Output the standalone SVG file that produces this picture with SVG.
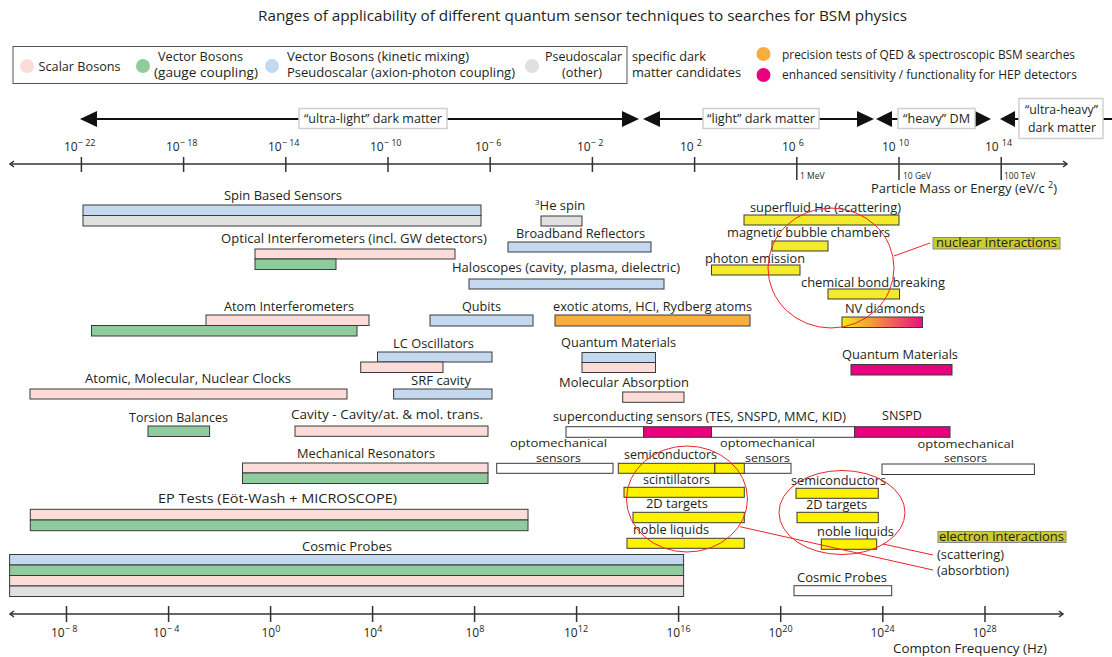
<svg xmlns="http://www.w3.org/2000/svg" width="1112" height="657" viewBox="0 0 1112 657">
<defs>
<style>
.t{font-family:"Open Sans","Noto Sans",sans-serif;font-size:13px;fill:#231f20}
.s{font-family:"Open Sans","Noto Sans",sans-serif;font-size:12px;fill:#231f20}
.o{font-family:"Open Sans","Noto Sans",sans-serif;font-size:11.5px;fill:#231f20}
.xs{font-family:"Open Sans","Noto Sans",sans-serif;font-size:8.5px;fill:#231f20}
.b{stroke:#3a3a3a;stroke-width:1}
.pk{fill:#fbdcd9}.gr{fill:#8fcb9c}.bl{fill:#c4d8ef}.gy{fill:#e0e0e0}.or{fill:#f9ad3c}.mg{fill:#e9007f}.yn{fill:#f2ea2b}.ye{fill:#fff200}.wh{fill:#ffffff}
.ax{stroke:#333;stroke-width:1.5;fill:none}
.red{stroke:#e8262a;stroke-width:1;fill:none}
.dm{fill:#fff;stroke:#cfcfcf;stroke-width:1.5}
.hl{fill:#cccb2c;stroke:#8a8a8a;stroke-width:1}
</style>
<linearGradient id="nv" x1="0" y1="0" x2="1" y2="0">
<stop offset="0" stop-color="#f6ea12"/>
<stop offset="1" stop-color="#e9127f"/>
</linearGradient>
</defs>
<rect width="1112" height="657" fill="#fff"/>

<text class="t" x="258" y="21" style="font-size:15px" textLength="649" lengthAdjust="spacingAndGlyphs">Ranges of applicability of different quantum sensor techniques to searches for BSM physics</text>

<g id="legend">
<rect x="13" y="46.5" width="614" height="37" fill="#fff" stroke="#555" stroke-width="1"/>
<circle cx="27" cy="66" r="7" class="pk"/>
<text class="t" x="38.6" y="71" textLength="82" lengthAdjust="spacingAndGlyphs">Scalar Bosons</text>
<circle cx="143" cy="66" r="7" class="gr"/>
<text class="t" x="158" y="61" textLength="85" lengthAdjust="spacingAndGlyphs">Vector Bosons</text>
<text class="t" x="154" y="77" textLength="104" lengthAdjust="spacingAndGlyphs">(gauge coupling)</text>
<circle cx="272" cy="66" r="7" class="bl"/>
<text class="t" x="287" y="61" textLength="182" lengthAdjust="spacingAndGlyphs">Vector Bosons (kinetic mixing)</text>
<text class="t" x="287" y="77" textLength="228" lengthAdjust="spacingAndGlyphs">Pseudoscalar (axion-photon coupling)</text>
<circle cx="532" cy="66" r="7" class="gy"/>
<text class="t" x="545" y="61" textLength="77" lengthAdjust="spacingAndGlyphs">Pseudoscalar</text>
<text class="t" x="562" y="77" textLength="40" lengthAdjust="spacingAndGlyphs">(other)</text>
<text class="t" x="632" y="61" textLength="74" lengthAdjust="spacingAndGlyphs">specific dark</text>
<text class="t" x="632" y="77" textLength="109" lengthAdjust="spacingAndGlyphs">matter candidates</text>
<circle cx="763.5" cy="54" r="7" class="or"/>
<text class="s" x="782" y="59" textLength="293" lengthAdjust="spacingAndGlyphs">precision tests of QED &amp; spectroscopic BSM searches</text>
<circle cx="763.5" cy="75" r="7" class="mg"/>
<text class="s" x="782" y="79" textLength="295" lengthAdjust="spacingAndGlyphs">enhanced sensitivity / functionality for HEP detectors</text>
</g>

<g id="dm-ranges">
<line x1="90" y1="119" x2="630" y2="119" stroke="#111" stroke-width="2"/>
<polygon points="80,119 97,111 97,127" fill="#111"/>
<polygon points="639,119 622,111 622,127" fill="#111"/>
<rect class="dm" x="299" y="108.5" width="148" height="20"/>
<text class="t" x="304" y="123" textLength="138" lengthAdjust="spacingAndGlyphs">“ultra-light” dark matter</text>

<line x1="650" y1="119" x2="866" y2="119" stroke="#111" stroke-width="2"/>
<polygon points="643,119 660,111 660,127" fill="#111"/>
<polygon points="874,119 857,111 857,127" fill="#111"/>
<rect class="dm" x="703" y="108.5" width="116" height="20"/>
<text class="t" x="707" y="123" textLength="108" lengthAdjust="spacingAndGlyphs">“light” dark matter</text>

<line x1="884" y1="119" x2="984" y2="119" stroke="#111" stroke-width="2"/>
<polygon points="876,119 892,111 892,127" fill="#111"/>
<polygon points="991,119 975,111 975,127" fill="#111"/>
<rect class="dm" x="898" y="108.5" width="77" height="20"/>
<text class="t" x="903" y="123" textLength="67" lengthAdjust="spacingAndGlyphs">“heavy” DM</text>

<line x1="1008" y1="119" x2="1112" y2="119" stroke="#111" stroke-width="2"/>
<polygon points="1000,119 1015,111 1015,127" fill="#111"/>
<rect class="dm" x="1019" y="98.5" width="84" height="40"/>
<text class="t" x="1025" y="114" textLength="73" lengthAdjust="spacingAndGlyphs">“ultra-heavy”</text>
<text class="t" x="1028" y="132" textLength="68" lengthAdjust="spacingAndGlyphs">dark matter</text>
</g>

<g id="top-axis">
<line class="ax" x1="10" y1="164" x2="1067" y2="164"/>
<polyline class="ax" points="14,161 10,164 14,167" stroke-width="1"/>
<polyline class="ax" points="1063,161 1067,164 1063,167" stroke-width="1"/>
<g stroke="#333" stroke-width="1.5">
<line x1="81.4" y1="157" x2="81.4" y2="172"/>
<line x1="183.6" y1="157" x2="183.6" y2="172"/>
<line x1="285.8" y1="157" x2="285.8" y2="172"/>
<line x1="388" y1="157" x2="388" y2="172"/>
<line x1="490.2" y1="157" x2="490.2" y2="172"/>
<line x1="592.4" y1="157" x2="592.4" y2="172"/>
<line x1="694.6" y1="157" x2="694.6" y2="172"/>
<line x1="796.8" y1="157" x2="796.8" y2="180"/>
<line x1="899" y1="157" x2="899" y2="180"/>
<line x1="1001.2" y1="157" x2="1001.2" y2="180"/>
</g>
<text class="s" x="64" y="151">10<tspan font-size="9" dy="-5">− 22</tspan></text>
<text class="s" x="166" y="151">10<tspan font-size="9" dy="-5">− 18</tspan></text>
<text class="s" x="268" y="151">10<tspan font-size="9" dy="-5">− 14</tspan></text>
<text class="s" x="370" y="151">10<tspan font-size="9" dy="-5">− 10</tspan></text>
<text class="s" x="475" y="151">10<tspan font-size="9" dy="-5">− 6</tspan></text>
<text class="s" x="577" y="151">10<tspan font-size="9" dy="-5">− 2</tspan></text>
<text class="s" x="680" y="151">10 <tspan font-size="9" dy="-5">2</tspan></text>
<text class="s" x="782" y="151">10 <tspan font-size="9" dy="-5">6</tspan></text>
<text class="s" x="882" y="151">10 <tspan font-size="9" dy="-5">10</tspan></text>
<text class="s" x="985" y="151">10 <tspan font-size="9" dy="-5">14</tspan></text>
<text class="xs" x="800" y="179">1 MeV</text>
<text class="xs" x="903" y="179">10 GeV</text>
<text class="xs" x="1004" y="179">100 TeV</text>
<text class="t" x="871" y="193" textLength="186" lengthAdjust="spacingAndGlyphs">Particle Mass or Energy (eV/c <tspan font-size="9" dy="-5">2</tspan><tspan dy="5">)</tspan></text>
</g>

<g id="spin-based-sensors">
<text class="t" x="224" y="200" textLength="118" lengthAdjust="spacingAndGlyphs">Spin Based Sensors</text>
<rect class="b bl" x="83" y="205" width="398" height="10.5"/>
<rect class="b gy" x="83" y="215.5" width="398" height="10.5"/>
</g>
<g id="he3-spin">
<text class="t" x="535" y="210"><tspan font-size="8" dy="-5">3</tspan><tspan dy="5">He spin</tspan></text>
<rect class="b gy" x="541" y="216" width="41" height="10"/>
</g>
<g id="optical-interferometers">
<text class="t" x="221" y="243" textLength="266" lengthAdjust="spacingAndGlyphs">Optical Interferometers (incl. GW detectors)</text>
<rect class="b pk" x="255" y="249" width="200" height="10"/>
<rect class="b gr" x="255" y="259" width="81" height="10.5"/>
</g>
<g id="broadband-reflectors">
<text class="t" x="516" y="238" textLength="129" lengthAdjust="spacingAndGlyphs">Broadband Reflectors</text>
<rect class="b bl" x="508" y="242" width="143" height="10"/>
</g>
<g id="haloscopes">
<text class="t" x="452" y="272" textLength="228" lengthAdjust="spacingAndGlyphs">Haloscopes (cavity, plasma, dielectric)</text>
<rect class="b bl" x="469" y="279" width="195" height="10"/>
</g>
<g id="atom-interferometers">
<text class="t" x="224" y="311" textLength="130" lengthAdjust="spacingAndGlyphs">Atom Interferometers</text>
<rect class="b pk" x="206" y="315" width="163" height="10.5"/>
<rect class="b gr" x="91.5" y="325.5" width="265.5" height="10.5"/>
</g>
<g id="qubits">
<text class="t" x="462" y="311" textLength="39" lengthAdjust="spacingAndGlyphs">Qubits</text>
<rect class="b bl" x="430" y="315" width="103" height="11"/>
</g>
<g id="exotic-atoms">
<text class="t" x="553" y="311" textLength="199" lengthAdjust="spacingAndGlyphs">exotic atoms, HCI, Rydberg atoms</text>
<rect class="b or" x="555" y="315" width="195" height="11"/>
</g>

<g id="superfluid-he">
<text class="t" x="750" y="212" textLength="151" lengthAdjust="spacingAndGlyphs">superfluid He  (scattering)</text>
<rect class="b yn" x="744" y="215" width="155" height="10"/>
</g>
<g id="magnetic-bubble-chambers">
<text class="t" x="727" y="237" textLength="163" lengthAdjust="spacingAndGlyphs">magnetic bubble chambers</text>
<rect class="b yn" x="772" y="241" width="56" height="10"/>
</g>
<g id="photon-emission">
<text class="t" x="705" y="263" textLength="100" lengthAdjust="spacingAndGlyphs">photon emission</text>
<rect class="b yn" x="711.5" y="265" width="88.5" height="10"/>
</g>
<g id="chemical-bond-breaking">
<text class="t" x="801" y="287" textLength="144" lengthAdjust="spacingAndGlyphs">chemical bond breaking</text>
<rect class="b yn" x="828" y="289" width="71.5" height="10"/>
</g>
<g id="nv-diamonds">
<text class="t" x="845" y="313" textLength="80" lengthAdjust="spacingAndGlyphs">NV diamonds</text>
<rect class="b" fill="url(#nv)" x="842" y="317" width="80.5" height="10.5"/>
</g>
<g id="nuclear-interactions">
<rect class="hl" x="933" y="237.5" width="127" height="11.5"/>
<text class="s" x="936" y="247" textLength="121" lengthAdjust="spacingAndGlyphs">nuclear interactions</text>
</g>

<g id="lc-oscillators">
<text class="t" x="393" y="348" textLength="81" lengthAdjust="spacingAndGlyphs">LC Oscillators</text>
<rect class="b bl" x="377.5" y="352" width="114.5" height="10"/>
<rect class="b pk" x="360.7" y="362" width="82.3" height="10.5"/>
</g>
<g id="quantum-materials-1">
<text class="t" x="561" y="347" textLength="115" lengthAdjust="spacingAndGlyphs">Quantum Materials</text>
<rect class="b bl" x="582" y="352.5" width="73.5" height="10"/>
<rect class="b pk" x="582" y="362.5" width="73.5" height="10"/>
</g>
<g id="quantum-materials-2">
<text class="t" x="842" y="359" textLength="116" lengthAdjust="spacingAndGlyphs">Quantum Materials</text>
<rect class="b mg" x="851" y="364.5" width="101" height="10.5"/>
</g>
<g id="clocks">
<text class="t" x="85" y="383" textLength="206" lengthAdjust="spacingAndGlyphs">Atomic, Molecular, Nuclear Clocks</text>
<rect class="b pk" x="30" y="389" width="317" height="10"/>
</g>
<g id="srf-cavity">
<text class="t" x="411" y="385" textLength="60" lengthAdjust="spacingAndGlyphs">SRF cavity</text>
<rect class="b bl" x="393.6" y="389" width="98.4" height="10"/>
</g>
<g id="molecular-absorption">
<text class="t" x="559" y="387" textLength="130" lengthAdjust="spacingAndGlyphs">Molecular Absorption</text>
<rect class="b pk" x="622.7" y="392" width="61.3" height="10.3"/>
</g>
<g id="torsion-balances">
<text class="t" x="129" y="422" textLength="99" lengthAdjust="spacingAndGlyphs">Torsion Balances</text>
<rect class="b gr" x="148" y="426" width="61.6" height="10.5"/>
</g>
<g id="cavity-cavity">
<text class="t" x="291" y="419" textLength="192" lengthAdjust="spacingAndGlyphs">Cavity - Cavity/at. &amp; mol. trans.</text>
<rect class="b pk" x="295" y="426" width="193" height="10.3"/>
</g>
<g id="superconducting-sensors">
<text class="t" x="553" y="421" textLength="293" lengthAdjust="spacingAndGlyphs">superconducting sensors (TES, SNSPD, MMC, KID)</text>
<rect class="b wh" x="566" y="426.7" width="77.7" height="10.6"/>
<rect class="b mg" x="643.7" y="426.7" width="67.8" height="10.6"/>
<rect class="b wh" x="711.5" y="426.7" width="143.1" height="10.6"/>
</g>
<g id="snspd">
<text class="t" x="882" y="420" textLength="40" lengthAdjust="spacingAndGlyphs">SNSPD</text>
<rect class="b mg" x="854.6" y="426.7" width="95.4" height="10.6"/>
</g>
<g id="mechanical-resonators">
<text class="t" x="297" y="458" textLength="138" lengthAdjust="spacingAndGlyphs">Mechanical Resonators</text>
<rect class="b pk" x="242.5" y="463" width="245.5" height="10"/>
<rect class="b gr" x="242.5" y="473" width="245.5" height="10.5"/>
</g>
<g id="optomechanical-1">
<text class="o" x="510" y="447" textLength="97" lengthAdjust="spacingAndGlyphs">optomechanical</text>
<text class="o" x="536" y="461.5" textLength="45" lengthAdjust="spacingAndGlyphs">sensors</text>
<rect class="b wh" x="496.7" y="463.3" width="116.3" height="10"/>
</g>
<g id="optomechanical-2">
<text class="o" x="720" y="447" textLength="95" lengthAdjust="spacingAndGlyphs">optomechanical</text>
<text class="o" x="745" y="461.5" textLength="45" lengthAdjust="spacingAndGlyphs">sensors</text>
<rect class="b wh" x="714.7" y="463.3" width="76.3" height="10"/>
<rect class="b ye" x="714.7" y="463.3" width="29.6" height="10"/>
</g>
<g id="semiconductors-1">
<text class="t" x="624" y="459" textLength="93" lengthAdjust="spacingAndGlyphs">semiconductors</text>
<rect class="b ye" x="618.3" y="463.3" width="96.4" height="10"/>
</g>
<g id="optomechanical-3">
<text class="o" x="917.5" y="447.5" textLength="96.5" lengthAdjust="spacingAndGlyphs">optomechanical</text>
<text class="o" x="944" y="462" textLength="43" lengthAdjust="spacingAndGlyphs">sensors</text>
<rect class="b wh" x="882" y="464" width="152.4" height="10.5"/>
</g>
<g id="scintillators">
<text class="t" x="643" y="484" textLength="67" lengthAdjust="spacingAndGlyphs">scintillators</text>
<rect class="b ye" x="624" y="487.3" width="120.3" height="10"/>
</g>
<g id="semiconductors-2">
<text class="t" x="791" y="485" textLength="95" lengthAdjust="spacingAndGlyphs">semiconductors</text>
<rect class="b ye" x="796" y="488.3" width="82.3" height="10"/>
</g>
<g id="targets-2d-1">
<text class="t" x="646" y="508" textLength="62" lengthAdjust="spacingAndGlyphs">2D targets</text>
<rect class="b ye" x="633" y="512.3" width="111.3" height="10.4"/>
</g>
<g id="targets-2d-2">
<text class="t" x="806" y="509" textLength="61" lengthAdjust="spacingAndGlyphs">2D targets</text>
<rect class="b ye" x="797" y="512.3" width="81.3" height="10.4"/>
</g>
<g id="noble-liquids-1">
<text class="t" x="633" y="534" textLength="76" lengthAdjust="spacingAndGlyphs">noble liquids</text>
<rect class="b ye" x="627" y="538.3" width="117.3" height="10"/>
</g>
<g id="noble-liquids-2">
<text class="t" x="817" y="536" textLength="77" lengthAdjust="spacingAndGlyphs">noble liquids</text>
<rect class="b ye" x="821.3" y="539" width="55.4" height="10.3"/>
</g>
<g id="ep-tests">
<text class="t" x="158" y="503" textLength="239" lengthAdjust="spacingAndGlyphs">EP Tests (Eöt-Wash + MICROSCOPE)</text>
<rect class="b pk" x="30.3" y="509.3" width="497.7" height="10.7"/>
<rect class="b gr" x="30.3" y="520" width="497.7" height="10.7"/>
</g>
<g id="cosmic-probes-1">
<text class="t" x="302" y="551" textLength="90" lengthAdjust="spacingAndGlyphs">Cosmic Probes</text>
<rect class="b bl" x="9.6" y="554.5" width="674" height="10.5"/>
<rect class="b gr" x="9.6" y="565" width="674" height="10.5"/>
<rect class="b pk" x="9.6" y="575.5" width="674" height="10.5"/>
<rect class="b gy" x="9.6" y="586" width="674" height="10.5"/>
</g>
<g id="cosmic-probes-2">
<text class="t" x="797" y="582" textLength="90" lengthAdjust="spacingAndGlyphs">Cosmic Probes</text>
<rect class="b wh" x="794" y="585.7" width="97.7" height="10"/>
</g>
<g id="electron-interactions">
<rect class="hl" x="938" y="531.5" width="128" height="11"/>
<text class="s" x="939" y="541" textLength="125" lengthAdjust="spacingAndGlyphs">electron interactions</text>
<text class="t" x="937" y="559" textLength="67" lengthAdjust="spacingAndGlyphs">(scattering)</text>
<text class="t" x="937" y="575" textLength="72" lengthAdjust="spacingAndGlyphs">(absorbtion)</text>
</g>

<g id="connectors">
<ellipse class="red" cx="831" cy="268" rx="63" ry="60"/>
<line class="red" x1="894" y1="256" x2="930" y2="243"/>
<ellipse class="red" cx="687" cy="499" rx="60.5" ry="53"/>
<ellipse class="red" cx="842" cy="512.5" rx="63" ry="42"/>
<line class="red" x1="883" y1="544" x2="933" y2="555"/>
<line class="red" x1="740" y1="526.7" x2="933" y2="570"/>
</g>

<g id="bottom-axis">
<line class="ax" x1="10" y1="614" x2="1063" y2="614"/>
<polyline class="ax" points="14,611 10,614 14,617" stroke-width="1"/>
<polyline class="ax" points="1059,611 1063,614 1059,617" stroke-width="1"/>
<g stroke="#333" stroke-width="1.5">
<line x1="66.5" y1="606" x2="66.5" y2="622"/>
<line x1="168.6" y1="606" x2="168.6" y2="622"/>
<line x1="270.6" y1="606" x2="270.6" y2="622"/>
<line x1="372.6" y1="606" x2="372.6" y2="622"/>
<line x1="474.6" y1="606" x2="474.6" y2="622"/>
<line x1="576.6" y1="606" x2="576.6" y2="622"/>
<line x1="678.6" y1="606" x2="678.6" y2="622"/>
<line x1="780.7" y1="606" x2="780.7" y2="622"/>
<line x1="882.8" y1="606" x2="882.8" y2="622"/>
<line x1="985" y1="606" x2="985" y2="622"/>
</g>
<text class="s" x="51" y="637">10<tspan font-size="9" dy="-5">− 8</tspan></text>
<text class="s" x="153" y="637">10<tspan font-size="9" dy="-5">− 4</tspan></text>
<text class="s" x="261.5" y="637">10<tspan font-size="9" dy="-5">0</tspan></text>
<text class="s" x="363.5" y="637">10<tspan font-size="9" dy="-5">4</tspan></text>
<text class="s" x="465.5" y="637">10<tspan font-size="9" dy="-5">8</tspan></text>
<text class="s" x="564" y="637">10<tspan font-size="9" dy="-5">12</tspan></text>
<text class="s" x="666.5" y="637">10<tspan font-size="9" dy="-5">16</tspan></text>
<text class="s" x="768.5" y="637">10<tspan font-size="9" dy="-5">20</tspan></text>
<text class="s" x="870.5" y="637">10<tspan font-size="9" dy="-5">24</tspan></text>
<text class="s" x="972.5" y="637">10<tspan font-size="9" dy="-5">28</tspan></text>
<text class="t" x="893" y="653" textLength="154" lengthAdjust="spacingAndGlyphs">Compton Frequency (Hz)</text>
</g>
</svg>
